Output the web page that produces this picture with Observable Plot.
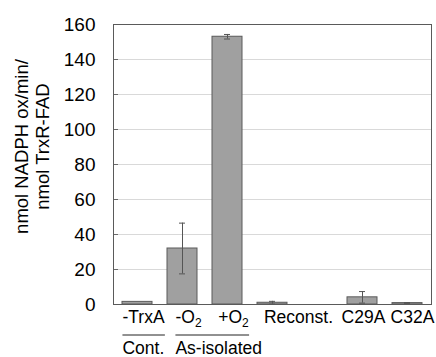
<!DOCTYPE html>
<html><head><meta charset="utf-8">
<script src="https://cdn.jsdelivr.net/npm/d3@7"></script>
<script src="https://cdn.jsdelivr.net/npm/@observablehq/plot@0.6"></script>
<style>body{margin:0;background:#fff} #chart svg{display:block}</style>
</head><body><div id="chart"></div>
<script>
const categories = ["-TrxA", "-O2", "+O2", "Reconst.", "", "C29A", "C32A"];
const leftLabels = ["-TrxA", "-O2", "+O2"];
const wideLabels = ["Reconst."];
const mutantLabels = ["C29A", "C32A"];
const means = [1.5, 32, 153, 1.0, null, 4.1, 0.8];
const errs = [null, 14.5, 1.3, 0.8, null, 3.3, 0.3];
const yTicks = [0, 20, 40, 60, 80, 100, 120, 140, 160];
const groupNames = ["Cont.", "As-isolated"];
const groupFirst = ["-TrxA", "-O2"];
const groupLast = ["-TrxA", "+O2"];
const yLabel = "nmol NADPH ox/min/\nnmol TrxR-FAD";

const data = categories.map((c, i) => ({c, v: means[i], e: errs[i]})).filter(d => d.v != null);
const errData = data.filter(d => d.e != null);
const inner = yTicks.slice(1, -1);
const font = "'Liberation Sans', Arial, sans-serif";
const xFont = 17.5;
const lab = {frameAnchor: "bottom", textAnchor: "middle", lineAnchor: "top", dy: 6, fontSize: xFont};

const plot = Plot.plot({
  width: 436, height: 357,
  marginLeft: 113, marginRight: 5, marginTop: 24, marginBottom: 53,
  style: {fontFamily: font, fontSize: "18px", color: "#000", background: "#fff", overflow: "visible"},
  x: {domain: categories, paddingInner: 0.33, paddingOuter: 0.18, axis: null},
  y: {domain: [0, 160], axis: null},
  marks: [
    Plot.gridY(inner, {stroke: "#d9d9d9", strokeOpacity: 1}),
    Plot.tickY(inner, {y: d => d, insetRight: 313, stroke: "#6a6a6a"}),
    Plot.axisY(yTicks, {tickSize: 0, tickPadding: 18, fontSize: 19, label: null}),
    Plot.barY(data, {x: "c", y: "v", fill: "#a0a0a0", stroke: "#5a5a5a", strokeWidth: 1}),
    Plot.ruleX(errData, {x: "c", y1: d => d.v - d.e, y2: d => d.v + d.e, stroke: "#555"}),
    Plot.tickY(errData, {x: "c", y: d => d.v + d.e, insetLeft: 12, insetRight: 12, stroke: "#555"}),
    Plot.tickY(errData, {x: "c", y: d => d.v - d.e, insetLeft: 12, insetRight: 12, stroke: "#555"}),
    Plot.frame({stroke: "#5a5a5a"}),
    Plot.text(leftLabels, {x: d => d, dx: 6, ...lab}),
    Plot.text(wideLabels, {x: d => d, dx: 26, ...lab}),
    Plot.text(mutantLabels, {x: d => d, dx: d => 0, ...lab, dx: 0}),
    Plot.text([yLabel], {frameAnchor: "left", rotate: -90, textAnchor: "middle", lineAnchor: "middle", dx: -82, dy: -18, fontSize: 18.5, lineHeight: 1.15})
  ]
});
document.getElementById("chart").appendChild(plot);

const svg = d3.select(plot);
// subscripts for O2
svg.selectAll("text").each(function() {
  const t = d3.select(this);
  if (this.querySelector("tspan")) return;
  const m = /^([+-]O)2$/.exec(t.text());
  if (m) {
    t.text(null);
    t.append("tspan").text(m[1]);
    t.append("tspan").attr("font-size", 12).attr("dy", "0.35em").text("2");
  }
});
// spread the two adjacent mutant labels apart slightly, like the reference
svg.selectAll("text").each(function() {
  if (this.textContent === "C32A") d3.select(this).attr("dx", 5);
  if (this.textContent === "C29A") d3.select(this).attr("dx", 1);
});

// group annotations beneath the category labels
const y0 = plot.scale("y").apply(0);
const svgRect = plot.getBoundingClientRect();
const labelNodes = {};
svg.selectAll("text").each(function() { labelNodes[this.textContent] = this; });
groupNames.forEach((name, i) => {
  const a = labelNodes[groupFirst[i]].getBoundingClientRect();
  const b = labelNodes[groupLast[i]].getBoundingClientRect();
  const x1 = a.left - svgRect.left;
  const x2 = b.right - svgRect.left;
  svg.append("line")
    .attr("x1", x1).attr("x2", x2)
    .attr("y1", y0 + 31).attr("y2", y0 + 31)
    .attr("stroke", "#222").attr("stroke-width", 1);
  svg.append("text")
    .attr("x", x1).attr("y", y0 + 50)
    .attr("text-anchor", "start")
    .attr("font-size", xFont).attr("fill", "#000")
    .text(name);
});
</script>
</body></html>
